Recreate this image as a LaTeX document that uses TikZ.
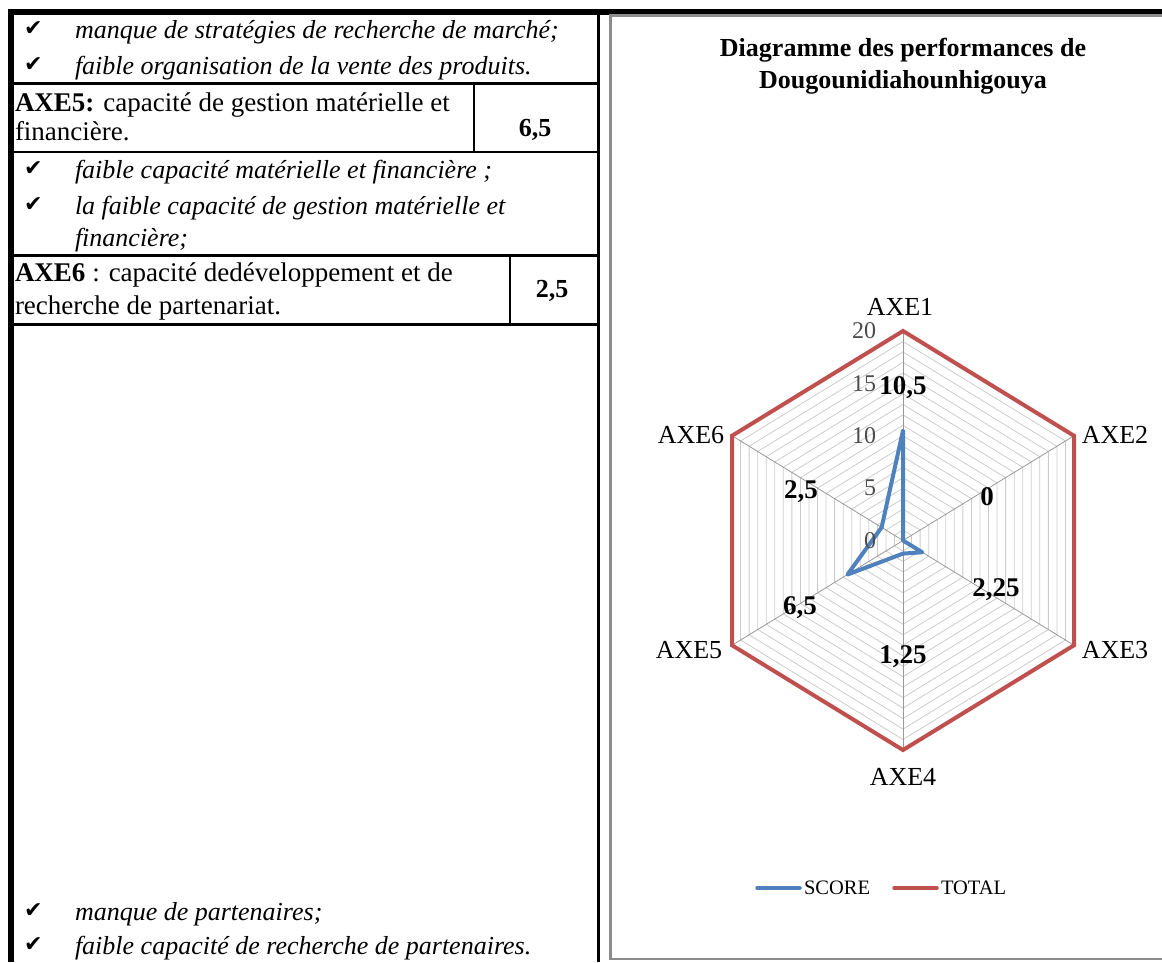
\documentclass[tikz,border=0pt]{standalone}
\usepackage{fontspec}
\setmainfont{Liberation Serif}
\newfontfamily\checkfont{DejaVu Sans}
\usetikzlibrary{calc}
\definecolor{scoreblue}{RGB}{79,129,189}
\definecolor{totalred}{RGB}{192,80,77}
\definecolor{framegray}{RGB}{140,140,140}
\tikzset{
  every node/.style={inner sep=0pt,outer sep=0pt},
  rule/.style={line width=2.5pt},
  txt/.style={anchor=base west,font=\fontsize{27}{32}\selectfont},
  itxt/.style={txt,font=\fontsize{26}{31}\selectfont\itshape},
  chk/.style={anchor=base west,font=\fontsize{22}{26}\checkfont},
  val/.style={anchor=base,font=\fontsize{26}{31}\selectfont\bfseries},
  ring/.style={draw=black!20,line width=0.8pt},
  spoke/.style={draw=black!40,line width=0.8pt},
  axlabel/.style={font=\fontsize{26}{31}\selectfont},
  tick/.style={anchor=east,font=\fontsize{24}{28}\selectfont,text=black!70},
  datalabel/.style={font=\fontsize{27}{32}\selectfont\bfseries},
  scoreline/.style={draw=scoreblue,line width=4pt,line join=round,line cap=round},
  totalline/.style={draw=totalred,line width=4pt,line join=miter},
  legtext/.style={anchor=west,font=\fontsize{20.5}{24}\selectfont},
}
\begin{document}
\begin{tikzpicture}[x=1pt,y=-1pt]
  \useasboundingbox (0,0) rectangle (1162,962);
  % table frame
  \fill (8,9) rectangle (1162,15);
  \fill (8,9) rectangle (14,962);
  \draw[rule] (598.5,15) -- (598.5,962);
  \foreach \y in {83.5,152,255.5,324.5}
    \draw[rule] (14,\y) -- (598.5,\y);
  \draw[rule] (474,83.5) -- (474,152);
  \draw[rule] (510,255.5) -- (510,324.5);
  % table text
  \foreach \n/\y/\t in {b1/38/{manque de stratégies de recherche de marché;},
                        b2/74/{faible organisation de la vente des produits.},
                        b3/178/{faible capacité matérielle et financière ;},
                        b4/214/{la faible capacité de gestion matérielle et},
                        b5/920/{manque de partenaires;},
                        b6/954/{faible capacité de recherche de partenaires.}}{
    \node[chk] (c\n) at (24,\y-3) {✔};
    \node[itxt] (\n) at (75,\y) {\t};
  }
  \node[itxt] (b4b) at (75,246) {financière;};
  \node[txt] (axe5a) at (15,111) {\textbf{AXE5:} capacité de gestion matérielle et};
  \node[txt] (axe5b) at (15,140) {financière.};
  \node[val] (v5) at (535,136) {6,5};
  \node[txt] (axe6a) at (15,281) {\textbf{AXE6} : capacité dedéveloppement et de};
  \node[txt] (axe6b) at (15,314) {recherche de partenariat.};
  \node[val] (v6) at (552,297) {2,5};
  % chart frame
  \draw[framegray,line width=2.5pt] (1162,15.5) -| (610.5,959) -- (1162,959);
  \node[font=\fontsize{26}{32}\selectfont\bfseries,align=center] (title) at (903,66)
    {Diagramme des performances de\\Dougounidiahounhigouya};
  % radar
  \begin{scope}[shift={(903,540.5)},x=171pt,y=209.5pt]
    \foreach \k in {1,...,20}
      \draw[ring] (0,\k/20) -- (\k/20,\k/40) -- (\k/20,-\k/40) -- (0,-\k/20)
        -- (-\k/20,-\k/40) -- (-\k/20,\k/40) -- cycle;
    \foreach \a/\b in {0/1,1/.5,1/-.5,0/-1,-1/-.5,-1/.5}
      \draw[spoke] (0,0) -- (\a,\b);
    \draw[totalline] (0,1) -- (1,.5) -- (1,-.5) -- (0,-1) -- (-1,-.5) -- (-1,.5) -- cycle;
    \draw[scoreline] (0,10.5/20) -- (0,0) -- (2.25/20,-1.125/20) -- (0,-1.25/20)
      -- (-6.5/20,-3.25/20) -- (-2.5/20,1.25/20) -- cycle;
  \end{scope}
  \foreach \v/\y in {20/331,15/383.5,10/436,5/488,0/540.5}
    \node[tick] (t\v) at (876,\y) {\v};
  \node[axlabel] (axe1) at (900,307) {AXE1};
  \node[axlabel] (axe2) at (1115,435) {AXE2};
  \node[axlabel] (axe3) at (1115,650) {AXE3};
  \node[axlabel] (axe4) at (903,777) {AXE4};
  \node[axlabel] (axe5) at (689,650) {AXE5};
  \node[axlabel] (axe6) at (691,435) {AXE6};
  \node[datalabel] (d1) at (903,388) {10,5};
  \node[datalabel] (d2) at (987,497) {0};
  \node[datalabel] (d3) at (996,590) {2,25};
  \node[datalabel] (d4) at (903,657) {1,25};
  \node[datalabel] (d5) at (800,608) {6,5};
  \node[datalabel] (d6) at (801,492) {2,5};
  % legend
  \coordinate (ls1) at (757,888);
  \coordinate (ls2) at (800,888);
  \draw[scoreline,line width=3.5pt] (ls1) -- (ls2);
  \node[legtext] (lscore) at (804,888) {SCORE};
  \coordinate (lt1) at (894,888);
  \coordinate (lt2) at (937,888);
  \draw[draw=totalred,line width=3.5pt,line cap=round] (lt1) -- (lt2);
  \node[legtext] (ltotal) at (941,888) {TOTAL};
\end{tikzpicture}
\end{document}
